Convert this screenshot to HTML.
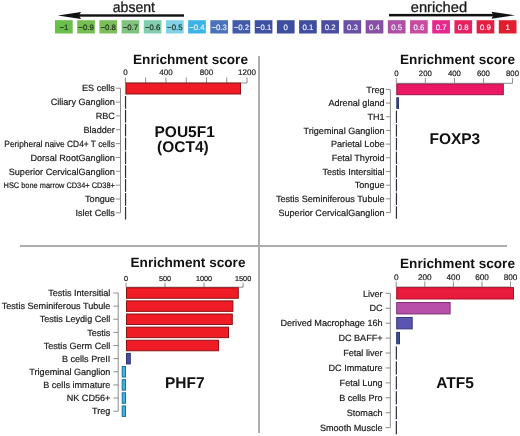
<!DOCTYPE html><html><head><meta charset="utf-8"><style>html,body{margin:0;padding:0;background:#fff;}svg{display:block;will-change:transform;}text{font-family:"Liberation Sans", sans-serif;text-rendering:geometricPrecision;}</style></head><body>
<svg width="520" height="436" viewBox="0 0 520 436">
<rect x="55.00" y="20.2" width="17.7" height="13.3" fill="#6abe4b"/>
<text x="63.85" y="29.6" font-size="7.8" text-anchor="middle" fill="#1d2a1a" stroke="#1d2a1a" stroke-width="0.15">−1</text>
<rect x="77.19" y="20.2" width="17.7" height="13.3" fill="#76be50"/>
<text x="86.04" y="29.6" font-size="7.8" text-anchor="middle" fill="#1d2a1a" stroke="#1d2a1a" stroke-width="0.15">−0.9</text>
<rect x="99.38" y="20.2" width="17.7" height="13.3" fill="#7cbe5a"/>
<text x="108.23" y="29.6" font-size="7.8" text-anchor="middle" fill="#1d2a1a" stroke="#1d2a1a" stroke-width="0.15">−0.8</text>
<rect x="121.57" y="20.2" width="17.7" height="13.3" fill="#80c380"/>
<text x="130.42" y="29.6" font-size="7.8" text-anchor="middle" fill="#1d2a1a" stroke="#1d2a1a" stroke-width="0.15">−0.7</text>
<rect x="143.76" y="20.2" width="17.7" height="13.3" fill="#80cdaf"/>
<text x="152.61" y="29.6" font-size="7.8" text-anchor="middle" fill="#1d2a1a" stroke="#1d2a1a" stroke-width="0.15">−0.6</text>
<rect x="165.95" y="20.2" width="17.7" height="13.3" fill="#80d2e6"/>
<text x="174.80" y="29.6" font-size="7.8" text-anchor="middle" fill="#1d2a1a" stroke="#1d2a1a" stroke-width="0.15">−0.5</text>
<rect x="188.14" y="20.2" width="17.7" height="13.3" fill="#3cb4e6"/>
<text x="196.99" y="29.6" font-size="7.8" text-anchor="middle" fill="#f0f0ff" stroke="#f0f0ff" stroke-width="0.15">−0.4</text>
<rect x="210.33" y="20.2" width="17.7" height="13.3" fill="#4b73b9"/>
<text x="219.18" y="29.6" font-size="7.8" text-anchor="middle" fill="#f0f0ff" stroke="#f0f0ff" stroke-width="0.15">−0.3</text>
<rect x="232.52" y="20.2" width="17.7" height="13.3" fill="#415aaa"/>
<text x="241.37" y="29.6" font-size="7.8" text-anchor="middle" fill="#f0f0ff" stroke="#f0f0ff" stroke-width="0.15">−0.2</text>
<rect x="254.71" y="20.2" width="17.7" height="13.3" fill="#3e50a0"/>
<text x="263.56" y="29.6" font-size="7.8" text-anchor="middle" fill="#f0f0ff" stroke="#f0f0ff" stroke-width="0.15">−0.1</text>
<rect x="276.90" y="20.2" width="17.7" height="13.3" fill="#3c4ea0"/>
<text x="285.75" y="29.6" font-size="7.8" text-anchor="middle" fill="#f0f0ff" stroke="#f0f0ff" stroke-width="0.15">0</text>
<rect x="299.09" y="20.2" width="17.7" height="13.3" fill="#3f4e9e"/>
<text x="307.94" y="29.6" font-size="7.8" text-anchor="middle" fill="#f0f0ff" stroke="#f0f0ff" stroke-width="0.15">0.1</text>
<rect x="321.28" y="20.2" width="17.7" height="13.3" fill="#4b4ea0"/>
<text x="330.13" y="29.6" font-size="7.8" text-anchor="middle" fill="#f0f0ff" stroke="#f0f0ff" stroke-width="0.15">0.2</text>
<rect x="343.47" y="20.2" width="17.7" height="13.3" fill="#6950a5"/>
<text x="352.32" y="29.6" font-size="7.8" text-anchor="middle" fill="#f0f0ff" stroke="#f0f0ff" stroke-width="0.15">0.3</text>
<rect x="365.66" y="20.2" width="17.7" height="13.3" fill="#8750a5"/>
<text x="374.51" y="29.6" font-size="7.8" text-anchor="middle" fill="#f0f0ff" stroke="#f0f0ff" stroke-width="0.15">0.4</text>
<rect x="387.85" y="20.2" width="17.7" height="13.3" fill="#af50a5"/>
<text x="396.70" y="29.6" font-size="7.8" text-anchor="middle" fill="#f0f0ff" stroke="#f0f0ff" stroke-width="0.15">0.5</text>
<rect x="410.04" y="20.2" width="17.7" height="13.3" fill="#c84ba0"/>
<text x="418.89" y="29.6" font-size="7.8" text-anchor="middle" fill="#f0f0ff" stroke="#f0f0ff" stroke-width="0.15">0.6</text>
<rect x="432.23" y="20.2" width="17.7" height="13.3" fill="#e6288c"/>
<text x="441.08" y="29.6" font-size="7.8" text-anchor="middle" fill="#f0f0ff" stroke="#f0f0ff" stroke-width="0.15">0.7</text>
<rect x="454.42" y="20.2" width="17.7" height="13.3" fill="#e6235f"/>
<text x="463.27" y="29.6" font-size="7.8" text-anchor="middle" fill="#f0f0ff" stroke="#f0f0ff" stroke-width="0.15">0.8</text>
<rect x="476.61" y="20.2" width="17.7" height="13.3" fill="#e41e41"/>
<text x="485.46" y="29.6" font-size="7.8" text-anchor="middle" fill="#f0f0ff" stroke="#f0f0ff" stroke-width="0.15">0.9</text>
<rect x="498.80" y="20.2" width="17.7" height="13.3" fill="#e11e2d"/>
<text x="507.65" y="29.6" font-size="7.8" text-anchor="middle" fill="#f0f0ff" stroke="#f0f0ff" stroke-width="0.15">1</text>
<rect x="76" y="14.3" width="108" height="2.4" fill="#111"/>
<path d="M57.8,15.5 L81,11.9 L79,15.5 L81,19 Z" fill="#111"/>
<rect x="389" y="13.9" width="106" height="2.5" fill="#111"/>
<path d="M515,15.2 L491.4,11.75 L493.4,15.2 L491.4,18.8 Z" fill="#111"/>
<text x="112.8" y="12.4" font-size="14.6" fill="#1a1a1a" stroke="#1a1a1a" stroke-width="0.3" textLength="42.2" lengthAdjust="spacingAndGlyphs">absent</text>
<text x="410.8" y="12.4" font-size="14.6" fill="#1a1a1a" stroke="#1a1a1a" stroke-width="0.3" textLength="56.3" lengthAdjust="spacingAndGlyphs">enriched</text>
<rect x="258" y="56" width="2" height="377" fill="#adadad"/>
<rect x="20" y="245" width="487" height="2" fill="#adadad"/>
<text x="133" y="63.6" font-size="13.6" font-weight="bold" fill="#111" textLength="115" lengthAdjust="spacingAndGlyphs">Enrichment score</text>
<line x1="125.4" y1="83" x2="247.02" y2="83" stroke="#808080" stroke-width="0.9"/>
<line x1="125.40" y1="83" x2="125.40" y2="77.5" stroke="#808080" stroke-width="0.9"/>
<line x1="145.67" y1="83" x2="145.67" y2="77.5" stroke="#808080" stroke-width="0.9"/>
<line x1="165.94" y1="83" x2="165.94" y2="77.5" stroke="#808080" stroke-width="0.9"/>
<line x1="186.21" y1="83" x2="186.21" y2="77.5" stroke="#808080" stroke-width="0.9"/>
<line x1="206.48" y1="83" x2="206.48" y2="77.5" stroke="#808080" stroke-width="0.9"/>
<line x1="226.75" y1="83" x2="226.75" y2="77.5" stroke="#808080" stroke-width="0.9"/>
<line x1="247.02" y1="83" x2="247.02" y2="77.5" stroke="#808080" stroke-width="0.9"/>
<text x="125.40" y="75.3" font-size="8" text-anchor="middle" fill="#222" stroke="#222" stroke-width="0.2">0</text>
<text x="165.94" y="75.3" font-size="8" text-anchor="middle" fill="#222" stroke="#222" stroke-width="0.2">400</text>
<text x="206.48" y="75.3" font-size="8" text-anchor="middle" fill="#222" stroke="#222" stroke-width="0.2">800</text>
<text x="247.02" y="75.3" font-size="8" text-anchor="middle" fill="#222" stroke="#222" stroke-width="0.2">1200</text>
<line x1="120.5" y1="88.20" x2="120.5" y2="212.85" stroke="#808080" stroke-width="0.9"/>
<line x1="115.8" y1="88.20" x2="120.5" y2="88.20" stroke="#808080" stroke-width="0.9"/>
<text x="114.9" y="91.40" font-size="9.1" text-anchor="end" fill="#1a1a1a" stroke="#1a1a1a" stroke-width="0.2">ES cells</text>
<line x1="115.8" y1="102.05" x2="120.5" y2="102.05" stroke="#808080" stroke-width="0.9"/>
<text x="114.9" y="105.25" font-size="9.1" text-anchor="end" fill="#1a1a1a" stroke="#1a1a1a" stroke-width="0.2">Ciliary Ganglion</text>
<line x1="115.8" y1="115.90" x2="120.5" y2="115.90" stroke="#808080" stroke-width="0.9"/>
<text x="114.9" y="119.10" font-size="9.1" text-anchor="end" fill="#1a1a1a" stroke="#1a1a1a" stroke-width="0.2">RBC</text>
<line x1="115.8" y1="129.75" x2="120.5" y2="129.75" stroke="#808080" stroke-width="0.9"/>
<text x="114.9" y="132.95" font-size="9.1" text-anchor="end" fill="#1a1a1a" stroke="#1a1a1a" stroke-width="0.2">Bladder</text>
<line x1="115.8" y1="143.60" x2="120.5" y2="143.60" stroke="#808080" stroke-width="0.9"/>
<text x="114.9" y="146.80" font-size="9" text-anchor="end" fill="#1a1a1a" stroke="#1a1a1a" stroke-width="0.2" textLength="110.6" lengthAdjust="spacingAndGlyphs">Peripheral naive CD4+ T cells</text>
<line x1="115.8" y1="157.45" x2="120.5" y2="157.45" stroke="#808080" stroke-width="0.9"/>
<text x="114.9" y="160.65" font-size="9.1" text-anchor="end" fill="#1a1a1a" stroke="#1a1a1a" stroke-width="0.2">Dorsal RootGanglion</text>
<line x1="115.8" y1="171.30" x2="120.5" y2="171.30" stroke="#808080" stroke-width="0.9"/>
<text x="114.9" y="174.50" font-size="9.1" text-anchor="end" fill="#1a1a1a" stroke="#1a1a1a" stroke-width="0.2">Superior CervicalGanglion</text>
<line x1="115.8" y1="185.15" x2="120.5" y2="185.15" stroke="#808080" stroke-width="0.9"/>
<text x="114.9" y="188.35" font-size="8" text-anchor="end" fill="#1a1a1a" stroke="#1a1a1a" stroke-width="0.2" textLength="111.3" lengthAdjust="spacingAndGlyphs">HSC bone marrow CD34+ CD38+</text>
<line x1="115.8" y1="199.00" x2="120.5" y2="199.00" stroke="#808080" stroke-width="0.9"/>
<text x="114.9" y="202.20" font-size="9.1" text-anchor="end" fill="#1a1a1a" stroke="#1a1a1a" stroke-width="0.2">Tongue</text>
<line x1="115.8" y1="212.85" x2="120.5" y2="212.85" stroke="#808080" stroke-width="0.9"/>
<text x="114.9" y="216.05" font-size="9.1" text-anchor="end" fill="#1a1a1a" stroke="#1a1a1a" stroke-width="0.2">Islet Cells</text>
<rect x="125.90" y="83.10" width="114.60" height="10.90" fill="#f01c25" stroke="#8c1216" stroke-width="1"/>
<rect x="124.95" y="96.05" width="1.2" height="12.70" fill="#2c2d40"/>
<rect x="124.95" y="109.90" width="1.2" height="12.70" fill="#2c2d40"/>
<rect x="124.95" y="123.75" width="1.2" height="12.70" fill="#2c2d40"/>
<rect x="124.95" y="137.60" width="1.2" height="12.70" fill="#2c2d40"/>
<rect x="124.95" y="151.45" width="1.2" height="12.70" fill="#2c2d40"/>
<rect x="124.95" y="165.30" width="1.2" height="12.70" fill="#2c2d40"/>
<rect x="124.95" y="179.15" width="1.2" height="12.70" fill="#2c2d40"/>
<rect x="124.95" y="193.00" width="1.2" height="12.70" fill="#2c2d40"/>
<rect x="124.95" y="206.85" width="1.2" height="12.70" fill="#2c2d40"/>
<text x="184.7" y="136.8" font-size="15.5" font-weight="bold" text-anchor="middle" fill="#111">POU5F1</text>
<text x="182.9" y="152.4" font-size="15.5" font-weight="bold" text-anchor="middle" fill="#111">(OCT4)</text>
<text x="400" y="63.8" font-size="13.6" font-weight="bold" fill="#111" textLength="115" lengthAdjust="spacingAndGlyphs">Enrichment score</text>
<line x1="396.3" y1="83.3" x2="512.50" y2="83.3" stroke="#808080" stroke-width="0.9"/>
<line x1="396.30" y1="83.3" x2="396.30" y2="78.1" stroke="#808080" stroke-width="0.9"/>
<line x1="425.35" y1="83.3" x2="425.35" y2="78.1" stroke="#808080" stroke-width="0.9"/>
<line x1="454.40" y1="83.3" x2="454.40" y2="78.1" stroke="#808080" stroke-width="0.9"/>
<line x1="483.45" y1="83.3" x2="483.45" y2="78.1" stroke="#808080" stroke-width="0.9"/>
<line x1="512.50" y1="83.3" x2="512.50" y2="78.1" stroke="#808080" stroke-width="0.9"/>
<text x="396.30" y="75.6" font-size="7.8" text-anchor="middle" fill="#222" stroke="#222" stroke-width="0.2">0</text>
<text x="425.35" y="75.6" font-size="7.8" text-anchor="middle" fill="#222" stroke="#222" stroke-width="0.2">200</text>
<text x="454.40" y="75.6" font-size="7.8" text-anchor="middle" fill="#222" stroke="#222" stroke-width="0.2">400</text>
<text x="483.45" y="75.6" font-size="7.8" text-anchor="middle" fill="#222" stroke="#222" stroke-width="0.2">600</text>
<text x="512.50" y="75.6" font-size="7.8" text-anchor="middle" fill="#222" stroke="#222" stroke-width="0.2">800</text>
<line x1="390.4" y1="89.40" x2="390.4" y2="212.52" stroke="#808080" stroke-width="0.9"/>
<line x1="386.0" y1="89.40" x2="390.4" y2="89.40" stroke="#808080" stroke-width="0.9"/>
<text x="384.6" y="92.60" font-size="9.1" text-anchor="end" fill="#1a1a1a" stroke="#1a1a1a" stroke-width="0.2">Treg</text>
<line x1="386.0" y1="103.08" x2="390.4" y2="103.08" stroke="#808080" stroke-width="0.9"/>
<text x="384.6" y="106.28" font-size="9.1" text-anchor="end" fill="#1a1a1a" stroke="#1a1a1a" stroke-width="0.2">Adrenal gland</text>
<line x1="386.0" y1="116.76" x2="390.4" y2="116.76" stroke="#808080" stroke-width="0.9"/>
<text x="384.6" y="119.96" font-size="9.1" text-anchor="end" fill="#1a1a1a" stroke="#1a1a1a" stroke-width="0.2">TH1</text>
<line x1="386.0" y1="130.44" x2="390.4" y2="130.44" stroke="#808080" stroke-width="0.9"/>
<text x="384.6" y="133.64" font-size="9.1" text-anchor="end" fill="#1a1a1a" stroke="#1a1a1a" stroke-width="0.2">Trigeminal Ganglion</text>
<line x1="386.0" y1="144.12" x2="390.4" y2="144.12" stroke="#808080" stroke-width="0.9"/>
<text x="384.6" y="147.32" font-size="9.1" text-anchor="end" fill="#1a1a1a" stroke="#1a1a1a" stroke-width="0.2">Parietal Lobe</text>
<line x1="386.0" y1="157.80" x2="390.4" y2="157.80" stroke="#808080" stroke-width="0.9"/>
<text x="384.6" y="161.00" font-size="9.1" text-anchor="end" fill="#1a1a1a" stroke="#1a1a1a" stroke-width="0.2">Fetal Thyroid</text>
<line x1="386.0" y1="171.48" x2="390.4" y2="171.48" stroke="#808080" stroke-width="0.9"/>
<text x="384.6" y="174.68" font-size="9.1" text-anchor="end" fill="#1a1a1a" stroke="#1a1a1a" stroke-width="0.2">Testis Intersitial</text>
<line x1="386.0" y1="185.16" x2="390.4" y2="185.16" stroke="#808080" stroke-width="0.9"/>
<text x="384.6" y="188.36" font-size="9.1" text-anchor="end" fill="#1a1a1a" stroke="#1a1a1a" stroke-width="0.2">Tongue</text>
<line x1="386.0" y1="198.84" x2="390.4" y2="198.84" stroke="#808080" stroke-width="0.9"/>
<text x="384.6" y="202.04" font-size="9.1" text-anchor="end" fill="#1a1a1a" stroke="#1a1a1a" stroke-width="0.2">Testis Seminiferous Tubule</text>
<line x1="386.0" y1="212.52" x2="390.4" y2="212.52" stroke="#808080" stroke-width="0.9"/>
<text x="384.6" y="215.72" font-size="9.1" text-anchor="end" fill="#1a1a1a" stroke="#1a1a1a" stroke-width="0.2">Superior CervicalGanglion</text>
<rect x="396.80" y="84.10" width="106.50" height="10.60" fill="#ed1864" stroke="#9c1241" stroke-width="1"/>
<rect x="396.80" y="97.78" width="1.70" height="10.60" fill="#3d4fa0" stroke="#2a3670" stroke-width="1"/>
<rect x="395.85" y="110.56" width="1.2" height="12.40" fill="#2c2d40"/>
<rect x="395.85" y="124.24" width="1.2" height="12.40" fill="#2c2d40"/>
<rect x="395.85" y="137.92" width="1.2" height="12.40" fill="#2c2d40"/>
<rect x="395.85" y="151.60" width="1.2" height="12.40" fill="#2c2d40"/>
<rect x="395.85" y="165.28" width="1.2" height="12.40" fill="#2c2d40"/>
<rect x="395.85" y="178.96" width="1.2" height="12.40" fill="#2c2d40"/>
<rect x="395.85" y="192.64" width="1.2" height="12.40" fill="#2c2d40"/>
<rect x="395.85" y="206.32" width="1.2" height="12.40" fill="#2c2d40"/>
<text x="454.85" y="144.3" font-size="15.5" font-weight="bold" text-anchor="middle" fill="#111">FOXP3</text>
<text x="130.5" y="267" font-size="13.6" font-weight="bold" fill="#111" textLength="115" lengthAdjust="spacingAndGlyphs">Enrichment score</text>
<line x1="126" y1="287.2" x2="243.09" y2="287.2" stroke="#808080" stroke-width="0.9"/>
<line x1="126.00" y1="287.2" x2="126.00" y2="282.8" stroke="#808080" stroke-width="0.9"/>
<line x1="165.03" y1="287.2" x2="165.03" y2="282.8" stroke="#808080" stroke-width="0.9"/>
<line x1="204.06" y1="287.2" x2="204.06" y2="282.8" stroke="#808080" stroke-width="0.9"/>
<line x1="243.09" y1="287.2" x2="243.09" y2="282.8" stroke="#808080" stroke-width="0.9"/>
<text x="126.00" y="281" font-size="7.3" text-anchor="middle" fill="#222" stroke="#222" stroke-width="0.2">0</text>
<text x="165.03" y="281" font-size="7.3" text-anchor="middle" fill="#222" stroke="#222" stroke-width="0.2">500</text>
<text x="204.06" y="281" font-size="7.3" text-anchor="middle" fill="#222" stroke="#222" stroke-width="0.2">1000</text>
<text x="243.09" y="281" font-size="7.3" text-anchor="middle" fill="#222" stroke="#222" stroke-width="0.2">1500</text>
<line x1="118.2" y1="293.00" x2="118.2" y2="411.17" stroke="#808080" stroke-width="0.9"/>
<line x1="113.3" y1="293.00" x2="118.2" y2="293.00" stroke="#808080" stroke-width="0.9"/>
<text x="110.4" y="296.20" font-size="9.1" text-anchor="end" fill="#1a1a1a" stroke="#1a1a1a" stroke-width="0.2">Testis Intersitial</text>
<line x1="113.3" y1="306.13" x2="118.2" y2="306.13" stroke="#808080" stroke-width="0.9"/>
<text x="110.4" y="309.33" font-size="9.1" text-anchor="end" fill="#1a1a1a" stroke="#1a1a1a" stroke-width="0.2">Testis Seminiferous Tubule</text>
<line x1="113.3" y1="319.26" x2="118.2" y2="319.26" stroke="#808080" stroke-width="0.9"/>
<text x="110.4" y="322.46" font-size="9.1" text-anchor="end" fill="#1a1a1a" stroke="#1a1a1a" stroke-width="0.2">Testis Leydig Cell</text>
<line x1="113.3" y1="332.39" x2="118.2" y2="332.39" stroke="#808080" stroke-width="0.9"/>
<text x="110.4" y="335.59" font-size="9.1" text-anchor="end" fill="#1a1a1a" stroke="#1a1a1a" stroke-width="0.2">Testis</text>
<line x1="113.3" y1="345.52" x2="118.2" y2="345.52" stroke="#808080" stroke-width="0.9"/>
<text x="110.4" y="348.72" font-size="9.1" text-anchor="end" fill="#1a1a1a" stroke="#1a1a1a" stroke-width="0.2">Testis Germ Cell</text>
<line x1="113.3" y1="358.65" x2="118.2" y2="358.65" stroke="#808080" stroke-width="0.9"/>
<text x="110.4" y="361.85" font-size="9.1" text-anchor="end" fill="#1a1a1a" stroke="#1a1a1a" stroke-width="0.2">B cells PreII</text>
<line x1="113.3" y1="371.78" x2="118.2" y2="371.78" stroke="#808080" stroke-width="0.9"/>
<text x="110.4" y="374.98" font-size="9.1" text-anchor="end" fill="#1a1a1a" stroke="#1a1a1a" stroke-width="0.2">Trigeminal Ganglion</text>
<line x1="113.3" y1="384.91" x2="118.2" y2="384.91" stroke="#808080" stroke-width="0.9"/>
<text x="110.4" y="388.11" font-size="9.1" text-anchor="end" fill="#1a1a1a" stroke="#1a1a1a" stroke-width="0.2">B cells immature</text>
<line x1="113.3" y1="398.04" x2="118.2" y2="398.04" stroke="#808080" stroke-width="0.9"/>
<text x="110.4" y="401.24" font-size="9.1" text-anchor="end" fill="#1a1a1a" stroke="#1a1a1a" stroke-width="0.2">NK CD56+</text>
<line x1="113.3" y1="411.17" x2="118.2" y2="411.17" stroke="#808080" stroke-width="0.9"/>
<text x="110.4" y="414.37" font-size="9.1" text-anchor="end" fill="#1a1a1a" stroke="#1a1a1a" stroke-width="0.2">Treg</text>
<rect x="126.50" y="287.75" width="111.80" height="10.50" fill="#f01c25" stroke="#8c1216" stroke-width="1"/>
<rect x="126.50" y="300.88" width="106.40" height="10.50" fill="#f01c25" stroke="#8c1216" stroke-width="1"/>
<rect x="126.50" y="314.01" width="105.80" height="10.50" fill="#f01c25" stroke="#8c1216" stroke-width="1"/>
<rect x="126.50" y="327.14" width="102.00" height="10.50" fill="#f01c25" stroke="#8c1216" stroke-width="1"/>
<rect x="126.50" y="340.27" width="92.10" height="10.50" fill="#f01c25" stroke="#8c1216" stroke-width="1"/>
<rect x="126.50" y="353.40" width="3.80" height="10.50" fill="#4a50a0" stroke="#2e3470" stroke-width="1"/>
<rect x="122.20" y="366.53" width="3.30" height="10.50" fill="#3cb4e6" stroke="#1f6f99" stroke-width="1"/>
<rect x="122.20" y="379.66" width="3.30" height="10.50" fill="#3cb4e6" stroke="#1f6f99" stroke-width="1"/>
<rect x="122.20" y="392.79" width="3.30" height="10.50" fill="#3cb4e6" stroke="#1f6f99" stroke-width="1"/>
<rect x="122.20" y="405.92" width="3.30" height="10.50" fill="#3cb4e6" stroke="#1f6f99" stroke-width="1"/>
<text x="184.8" y="388" font-size="15.5" font-weight="bold" text-anchor="middle" fill="#111">PHF7</text>
<text x="400" y="268" font-size="13.6" font-weight="bold" fill="#111" textLength="115" lengthAdjust="spacingAndGlyphs">Enrichment score</text>
<line x1="396.2" y1="287" x2="510.60" y2="287" stroke="#808080" stroke-width="0.9"/>
<line x1="396.20" y1="287" x2="396.20" y2="281.5" stroke="#808080" stroke-width="0.9"/>
<line x1="424.80" y1="287" x2="424.80" y2="281.5" stroke="#808080" stroke-width="0.9"/>
<line x1="453.40" y1="287" x2="453.40" y2="281.5" stroke="#808080" stroke-width="0.9"/>
<line x1="482.00" y1="287" x2="482.00" y2="281.5" stroke="#808080" stroke-width="0.9"/>
<line x1="510.60" y1="287" x2="510.60" y2="281.5" stroke="#808080" stroke-width="0.9"/>
<text x="396.20" y="279.7" font-size="8.2" text-anchor="middle" fill="#222" stroke="#222" stroke-width="0.2">0</text>
<text x="424.80" y="279.7" font-size="8.2" text-anchor="middle" fill="#222" stroke="#222" stroke-width="0.2">200</text>
<text x="453.40" y="279.7" font-size="8.2" text-anchor="middle" fill="#222" stroke="#222" stroke-width="0.2">400</text>
<text x="482.00" y="279.7" font-size="8.2" text-anchor="middle" fill="#222" stroke="#222" stroke-width="0.2">600</text>
<text x="510.60" y="279.7" font-size="8.2" text-anchor="middle" fill="#222" stroke="#222" stroke-width="0.2">800</text>
<line x1="390.3" y1="293.30" x2="390.3" y2="427.67" stroke="#808080" stroke-width="0.9"/>
<line x1="385.5" y1="293.30" x2="390.3" y2="293.30" stroke="#808080" stroke-width="0.9"/>
<text x="382.6" y="296.50" font-size="9.1" text-anchor="end" fill="#1a1a1a" stroke="#1a1a1a" stroke-width="0.2">Liver</text>
<line x1="385.5" y1="308.23" x2="390.3" y2="308.23" stroke="#808080" stroke-width="0.9"/>
<text x="382.6" y="311.43" font-size="9.1" text-anchor="end" fill="#1a1a1a" stroke="#1a1a1a" stroke-width="0.2">DC</text>
<line x1="385.5" y1="323.16" x2="390.3" y2="323.16" stroke="#808080" stroke-width="0.9"/>
<text x="382.6" y="326.36" font-size="9.1" text-anchor="end" fill="#1a1a1a" stroke="#1a1a1a" stroke-width="0.2">Derived Macrophage 16h</text>
<line x1="385.5" y1="338.09" x2="390.3" y2="338.09" stroke="#808080" stroke-width="0.9"/>
<text x="382.6" y="341.29" font-size="9.1" text-anchor="end" fill="#1a1a1a" stroke="#1a1a1a" stroke-width="0.2">DC BAFF+</text>
<line x1="385.5" y1="353.02" x2="390.3" y2="353.02" stroke="#808080" stroke-width="0.9"/>
<text x="382.6" y="356.22" font-size="9.1" text-anchor="end" fill="#1a1a1a" stroke="#1a1a1a" stroke-width="0.2">Fetal liver</text>
<line x1="385.5" y1="367.95" x2="390.3" y2="367.95" stroke="#808080" stroke-width="0.9"/>
<text x="382.6" y="371.15" font-size="9.1" text-anchor="end" fill="#1a1a1a" stroke="#1a1a1a" stroke-width="0.2">DC Immature</text>
<line x1="385.5" y1="382.88" x2="390.3" y2="382.88" stroke="#808080" stroke-width="0.9"/>
<text x="382.6" y="386.08" font-size="9.1" text-anchor="end" fill="#1a1a1a" stroke="#1a1a1a" stroke-width="0.2">Fetal Lung</text>
<line x1="385.5" y1="397.81" x2="390.3" y2="397.81" stroke="#808080" stroke-width="0.9"/>
<text x="382.6" y="401.01" font-size="9.1" text-anchor="end" fill="#1a1a1a" stroke="#1a1a1a" stroke-width="0.2">B cells Pro</text>
<line x1="385.5" y1="412.74" x2="390.3" y2="412.74" stroke="#808080" stroke-width="0.9"/>
<text x="382.6" y="415.94" font-size="9.1" text-anchor="end" fill="#1a1a1a" stroke="#1a1a1a" stroke-width="0.2">Stomach</text>
<line x1="385.5" y1="427.67" x2="390.3" y2="427.67" stroke="#808080" stroke-width="0.9"/>
<text x="382.6" y="430.87" font-size="9.1" text-anchor="end" fill="#1a1a1a" stroke="#1a1a1a" stroke-width="0.2">Smooth Muscle</text>
<rect x="396.70" y="287.60" width="116.80" height="11.40" fill="#e91b3c" stroke="#a81229" stroke-width="1"/>
<rect x="396.70" y="302.53" width="53.40" height="11.40" fill="#b84fa8" stroke="#7a3474" stroke-width="1"/>
<rect x="396.70" y="317.46" width="15.50" height="11.40" fill="#5a55b0" stroke="#383575" stroke-width="1"/>
<rect x="396.70" y="332.39" width="2.80" height="11.40" fill="#3f4fa0" stroke="#2a3670" stroke-width="1"/>
<rect x="395.75" y="346.42" width="1.2" height="13.20" fill="#2c2d40"/>
<rect x="395.75" y="361.35" width="1.2" height="13.20" fill="#2c2d40"/>
<rect x="395.75" y="376.28" width="1.2" height="13.20" fill="#2c2d40"/>
<rect x="395.75" y="391.21" width="1.2" height="13.20" fill="#2c2d40"/>
<rect x="395.75" y="406.14" width="1.2" height="13.20" fill="#2c2d40"/>
<rect x="395.75" y="421.07" width="1.2" height="13.20" fill="#2c2d40"/>
<text x="455" y="388.2" font-size="15.5" font-weight="bold" text-anchor="middle" fill="#111">ATF5</text>
</svg></body></html>
